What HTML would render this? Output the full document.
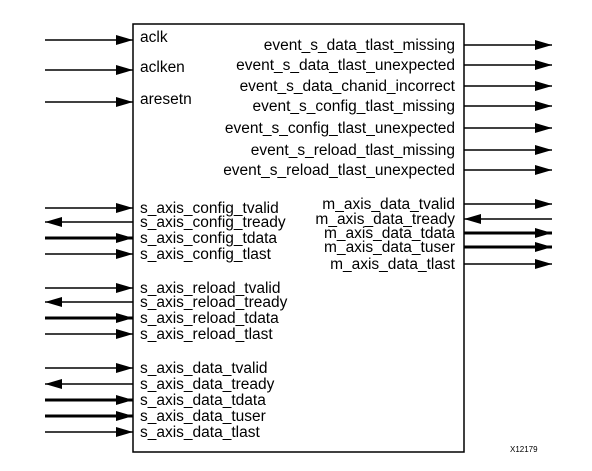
<!DOCTYPE html>
<html><head><meta charset="utf-8"><style>body{margin:0;background:#fff}svg{display:block}text{font-family:"Liberation Sans",Arial,sans-serif;font-size:15.5px;fill:#000}</style></head>
<body>
<svg width="592" height="471" viewBox="0 0 592 471">
<rect x="133" y="24" width="331" height="428" fill="#fff" stroke="#000" stroke-width="1.5"/>
<g id="ports"></g>
<text x="510" y="452" style="font-size:8px">X12179</text>
</svg>
<script>
const leftNames=["aclk","aclken","aresetn","s_axis_config_tvalid","s_axis_config_tready","s_axis_config_tdata","s_axis_config_tlast","s_axis_reload_tvalid","s_axis_reload_tready","s_axis_reload_tdata","s_axis_reload_tlast","s_axis_data_tvalid","s_axis_data_tready","s_axis_data_tdata","s_axis_data_tuser","s_axis_data_tlast"];
const leftY=[40,70,102,208,222,238,254,288,302,318,334,368,384,400,416,432];
const leftDir=["in","in","in","in","out","in","in","in","out","in","in","in","out","in","in","in"];
const leftBus=[0,0,0,0,0,1,0,0,0,1,0,0,0,1,1,0];
const rightNames=["event_s_data_tlast_missing","event_s_data_tlast_unexpected","event_s_data_chanid_incorrect","event_s_config_tlast_missing","event_s_config_tlast_unexpected","event_s_reload_tlast_missing","event_s_reload_tlast_unexpected","m_axis_data_tvalid","m_axis_data_tready","m_axis_data_tdata","m_axis_data_tuser","m_axis_data_tlast"];
const rightY=[45,65,86,106,128,150,170,204,219,233,247,264];
const rightDir=["out","out","out","out","out","out","out","out","in","out","out","out"];
const rightBus=[0,0,0,0,0,0,0,0,0,1,1,0];
const g=document.getElementById('ports');
const NS='http://www.w3.org/2000/svg';
function arrow(x1,x2,y,bus,toRight,name){
  const l=document.createElementNS(NS,'line');
  
  
  l.setAttribute('x1',x1);l.setAttribute('x2',x2);l.setAttribute('y1',y);l.setAttribute('y2',y);
  l.setAttribute('stroke','#000');l.setAttribute('stroke-width',bus?3:1.5);
  g.appendChild(l);
  const p=document.createElementNS(NS,'polygon');
  
  
  const tip=toRight?x2:x1, b=toRight?tip-17:tip+17;
  p.setAttribute('points',`${tip},${y} ${b},${y-5} ${b},${y+5}`);
  g.appendChild(p);
}
function label(x,y,t,anchor){
  const e=document.createElementNS(NS,'text');
  
  
  e.setAttribute('x',x);e.setAttribute('y',y+5);e.setAttribute('text-anchor',anchor);
  e.textContent=t;g.appendChild(e);
}
leftNames.forEach((n,i)=>{
  arrow(45,133,leftY[i],leftBus[i],leftDir[i]==="in",n);
  label(140,leftY[i]-(i<3?3:0),n,'start');
});
rightNames.forEach((n,i)=>{
  arrow(464,552,rightY[i],rightBus[i],rightDir[i]==="out",n);
  label(455,rightY[i],n,'end');
});
</script>
</body></html>
